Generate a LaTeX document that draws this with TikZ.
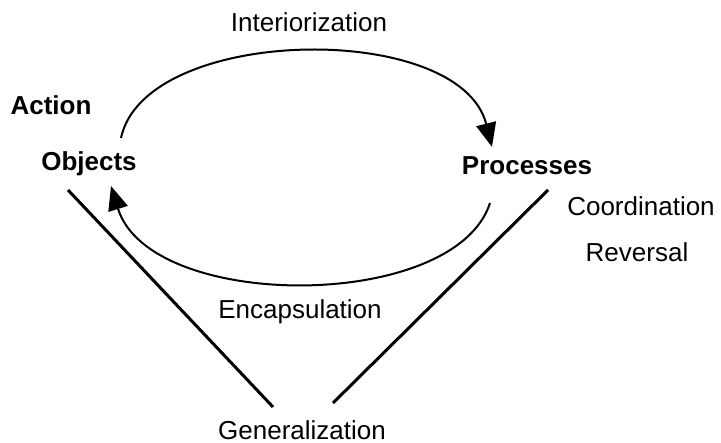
\documentclass[tikz,border=0pt]{standalone}
\usepackage{fontspec}
\setmainfont{Liberation Sans}
\usepackage{tikz}
\usetikzlibrary{arrows.meta}

\begin{document}
\begin{tikzpicture}[x=0.5pt, y=-0.5pt, >={Triangle[length=12pt,width=10pt]},
    lbl/.style={anchor=base, inner sep=0pt, font=\fontsize{13}{15}\selectfont},
    bold lbl/.style={lbl, font=\fontsize{13}{15}\selectfont\bfseries}]
        \useasboundingbox (0,0) rectangle (721,443);
        % Labels
        \node[lbl] (inter) at (309,32) {Interiorization};
        \node[bold lbl] (action) at (51,115) {Action};
        \node[bold lbl] (objects) at (89,170) {Objects};
        \node[bold lbl] (processes) at (527,175) {Processes};
        \node[lbl] (coord) at (641,215) {Coordination};
        \node[lbl] (reversal) at (637,261) {Reversal};
        \node[lbl] (encap) at (300,318) {Encapsulation};
        \node[lbl] (general) at (302,439) {Generalization};

        % Cycle between objects and processes
        \coordinate (topstart) at (121,138);
        \coordinate (topend) at (492,147);
        \coordinate (botstart) at (490,203);
        \coordinate (botend) at (111,186);
        \draw[line width=1pt, ->] (topstart) .. controls (145,25) and (460,20) .. (topend);
        \draw[line width=1pt, ->] (botstart) .. controls (455,312) and (150,312) .. (botend);

        % Generalization lines
        \coordinate (lefttop) at (68,190);
        \coordinate (leftbot) at (273,407);
        \coordinate (righttop) at (548,190);
        \coordinate (rightbot) at (333,403);
        \draw[line width=1.5pt] (lefttop) -- (leftbot);
        \draw[line width=1.5pt] (righttop) -- (rightbot);
    \end{tikzpicture}
\end{document}
